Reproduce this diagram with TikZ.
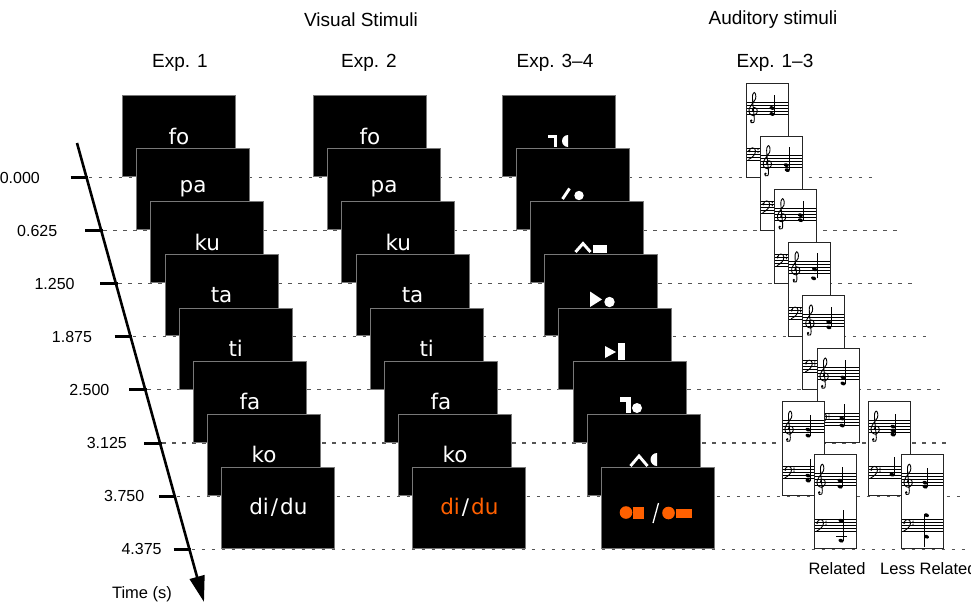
\documentclass[tikz,border=0pt]{standalone}
\usepackage{fontspec}
\setmainfont{Liberation Sans}
\newfontfamily\boxfont{DejaVu Sans}
\usetikzlibrary{arrows.meta}
\definecolor{stimorange}{RGB}{255,96,0}
\definecolor{dotgray}{RGB}{85,85,85}
\definecolor{boxgray}{RGB}{120,120,120}
\newcommand{\trebleclef}{%
  \draw[line width=0.9pt] plot[smooth, tension=0.55] coordinates {(8,28.5) (6.3,27) (7.6,24.6) (10.6,25.6) (11,29.6) (7.5,32.6) (3.6,30.5) (3.2,26) (6,21) (9.5,16) (9.6,11.5) (8.2,9.5) (6.6,12) (6.6,17.5) (7.6,28) (8.3,36) (7.6,39.5) (5.2,39.7) (4.6,37.5)};
  \fill (5.3,37.6) circle[radius=1.2];}
\newcommand{\bassclef}{%
  \fill (3.2,68) circle[radius=1.3];
  \draw[line width=0.9pt] (3.2,68) .. controls (3.5,64) and (9.5,63.5) .. (9.5,68) .. controls (9.5,71.5) and (6.5,74.5) .. (2.5,76.5);
  \fill (12,66.5) circle[radius=0.7]; \fill (12,69.5) circle[radius=0.7];}
\newcommand{\scorebase}{%
  \fill[white] (0,0) rectangle (42,94);
  \foreach \s in {19,22,25,28,31,65,68,71,74,77}{\draw[staffline] (0,\s) -- (42,\s);}
  \trebleclef
  \bassclef}
\newcommand{\scoreframe}{\draw[cardframe] (0,0) rectangle (42,94);}
\newcommand{\nhd}[2]{\fill[rotate around={-20:(#1,#2)}] (#1,#2) ellipse[x radius=2.6, y radius=1.8];}
\newcommand{\notestem}[3]{\draw[line width=0.8pt] (#1,#2) -- (#1,#3);}
\begin{document}
\begin{tikzpicture}[x=1pt,y=-1pt,
  stimbox/.style={draw=boxgray, line width=0.9pt, fill=black, minimum width=113pt, minimum height=81pt, inner sep=0pt, text=white, font=\boxfont\fontsize{21.5}{25}\selectfont, anchor=south west},
  dotline/.style={draw=dotgray, line width=1.15pt, dash pattern=on 3.5pt off 6.5pt},
  tickmark/.style={line width=3pt},
  title/.style={font=\fontsize{19}{23}\selectfont, inner sep=0pt},
  axlabel/.style={font=\fontsize{16}{19}\selectfont, anchor=east, inner sep=0pt},
  bottomlabel/.style={font=\fontsize{16.5}{19}\selectfont, inner sep=0pt},
  staffline/.style={line width=0.6pt},
  cardframe/.style={draw=black!85, line width=1pt},
  symbline/.style={draw=white, line width=2.9pt}
]
\useasboundingbox (0,0) rectangle (971,605);

% titles
\node[title] (vis) at (361,20) {Visual Stimuli};
\node[title] (aud) at (773,20) {Auditory stimuli};
\node[title] (e1) at (180,63) {Exp. 1};
\node[title] (e2) at (369,63) {Exp. 2};
\node[title] (e34) at (555,63) {Exp. 3--4};
\node[title] (e13) at (775,63) {Exp. 1--3};

% dotted lines, ticks and labels
\foreach \i/\e/\t in {0/878/0.000,1/898/0.625,2/913/1.250,3/927/1.875,4/940/2.500,5/952/3.125,6/966/3.750,7/980/4.375}{
  \pgfmathsetmacro\yy{177.5+53.1*\i}
  \pgfmathsetmacro\xx{77+(\yy-143)*0.2773}
  \coordinate (dl\i) at (\xx+2,\yy);
  \coordinate (dr\i) at (\e,\yy);
  \draw[dotline] (dl\i) -- (dr\i);
  \coordinate (tl\i) at (\xx-16,\yy);
  \coordinate (tr\i) at (\xx+1.5,\yy);
  \draw[tickmark] (tl\i) -- (tr\i);
  \node[axlabel] (lab\i) at (40+17.4*\i,\yy) {\t};
}

% time arrow
\coordinate (tstart) at (77,143);
\coordinate (tend) at (204,602);
\draw[line width=2.6pt, -{Triangle[length=26pt,width=15pt]}] (tstart) -- (tend);
\node[bottomlabel] (timelab) at (142,594) {Time (s)};

% stimulus boxes
\foreach \i/\w in {0/fo,1/pa,2/ku,3/ta,4/ti,5/fa,6/ko}{
  \pgfmathsetmacro\yy{177+53.1*\i}
  \node[stimbox] (a\i) at (122+14.2*\i,\yy) {\w};
  \node[stimbox] (b\i) at (313+14.2*\i,\yy) {\w};
  \node[stimbox] (c\i) at (502+14.1*\i,\yy) {};
}
\node[stimbox] (a7) at (221.4,548.7) {di\hspace{2pt}/\hspace{2pt}du};
\node[stimbox] (b7) at (412.4,548.7) {\textcolor{stimorange}{di}\hspace{2pt}/\hspace{2pt}\textcolor{stimorange}{du}};
\node[stimbox] (c7) at (600.7,548.7) {};

% Exp 3-4 symbols
\fill[white] (548,134.5) rectangle (557,138);
\fill[white] (553.5,134.5) rectangle (557,147);
\fill[white] (568,135) arc[start angle=-90,end angle=-270,radius=6] -- cycle;
\draw[symbline] (562.5,199) -- (569.5,188.5);
\fill[white] (579,195.5) circle[radius=4.7];
\draw[symbline, line join=miter] (575.5,252) -- (583,243.5) -- (590.5,252);
\fill[white] (593,245) rectangle (607,253);
\fill[white] (590,291.5) -- (602,299.5) -- (590,307) -- cycle;
\fill[white] (609.5,302) circle[radius=5.2];
\fill[white] (605,346) -- (616,352) -- (605,358) -- cycle;
\fill[white] (618,343) rectangle (625,360);
\fill[white] (620,397) rectangle (631,401.5);
\fill[white] (626,397) rectangle (631,413);
\fill[white] (637,408) circle[radius=5];
\draw[symbline, line join=miter] (630.5,466) -- (639,456) -- (647.5,466);
\fill[white] (657,453) arc[start angle=-90,end angle=-270,radius=6.5] -- cycle;
\fill[stimorange] (626,512.5) circle[radius=6.3];
\fill[stimorange] (633,506.5) rectangle (644,518.5);
\draw[white, line width=1.3pt] (653,523) -- (658.5,503);
\fill[stimorange] (668.5,513) circle[radius=6.3];
\fill[stimorange] (676,508.5) rectangle (692,517.5);

% score cards
\begin{scope}[shift={(746,83)}]
  \scorebase \nhd{26}{25}\nhd{26}{31}\notestem{28.5}{31}{12}
  \nhd{25}{70}\nhd{25}{75}\notestem{27.5}{75}{56} \scoreframe
\end{scope}
\begin{scope}[shift={(760.2,136.1)}]
  \scorebase \nhd{26}{29}\nhd{27}{34}\notestem{29.5}{34}{11}
  \nhd{25}{71}\notestem{27.5}{71}{56} \scoreframe
\end{scope}
\begin{scope}[shift={(774.4,189.2)}]
  \scorebase \nhd{26}{26}\nhd{26}{31}\notestem{28.5}{31}{12}
  \nhd{25}{69}\nhd{25}{74}\notestem{27.5}{74}{56} \scoreframe
\end{scope}
\begin{scope}[shift={(788.6,242.3)}]
  \scorebase \nhd{26}{27}\nhd{25}{36}\notestem{28.5}{36}{11}
  \nhd{25}{72}\notestem{27.5}{72}{56} \scoreframe
\end{scope}
\begin{scope}[shift={(802.8,295.4)}]
  \scorebase \nhd{26}{27}\nhd{26}{32}\notestem{28.5}{32}{12}
  \nhd{25}{70}\nhd{25}{76}\notestem{27.5}{76}{56} \scoreframe
\end{scope}
\begin{scope}[shift={(817,348.5)}]
  \scorebase \nhd{26}{29}\nhd{26}{35}\notestem{28.5}{35}{11}
  \nhd{25}{70}\nhd{25}{77}\notestem{27.5}{77}{55} \scoreframe
\end{scope}
% related
\begin{scope}[shift={(782,401.6)}]
  \scorebase \nhd{26}{28}\nhd{26}{34}\notestem{28.5}{34}{13}
  \nhd{26}{74}\nhd{26}{79}\notestem{28.5}{79}{57} \scoreframe
\end{scope}
\begin{scope}[shift={(814,454.7)}]
  \scorebase \nhd{26}{26}\nhd{26}{32}\notestem{28.5}{32}{12}
  \nhd{27}{66}\draw[line width=0.6pt] (22,82) -- (33,82);\nhd{27}{86}\notestem{29.5}{86}{55} \scoreframe
\end{scope}
% less related
\begin{scope}[shift={(868,401.6)}]
  \scorebase \nhd{25}{25}\nhd{25}{29}\nhd{25}{33}\notestem{27.5}{33}{12}
  \nhd{24}{73}\notestem{26.5}{73}{55} \scoreframe
\end{scope}
\begin{scope}[shift={(901,454.7)}]
  \scorebase \nhd{24}{28}\nhd{24}{32}\notestem{26.5}{32}{13}
  \nhd{25.5}{60.5}\nhd{25.5}{82}\notestem{23}{60.5}{92} \scoreframe
\end{scope}

\node[bottomlabel] (rel) at (837,569) {Related};
\node[bottomlabel, anchor=west] (lessrel) at (880,569) {Less Related};
\end{tikzpicture}
\end{document}
